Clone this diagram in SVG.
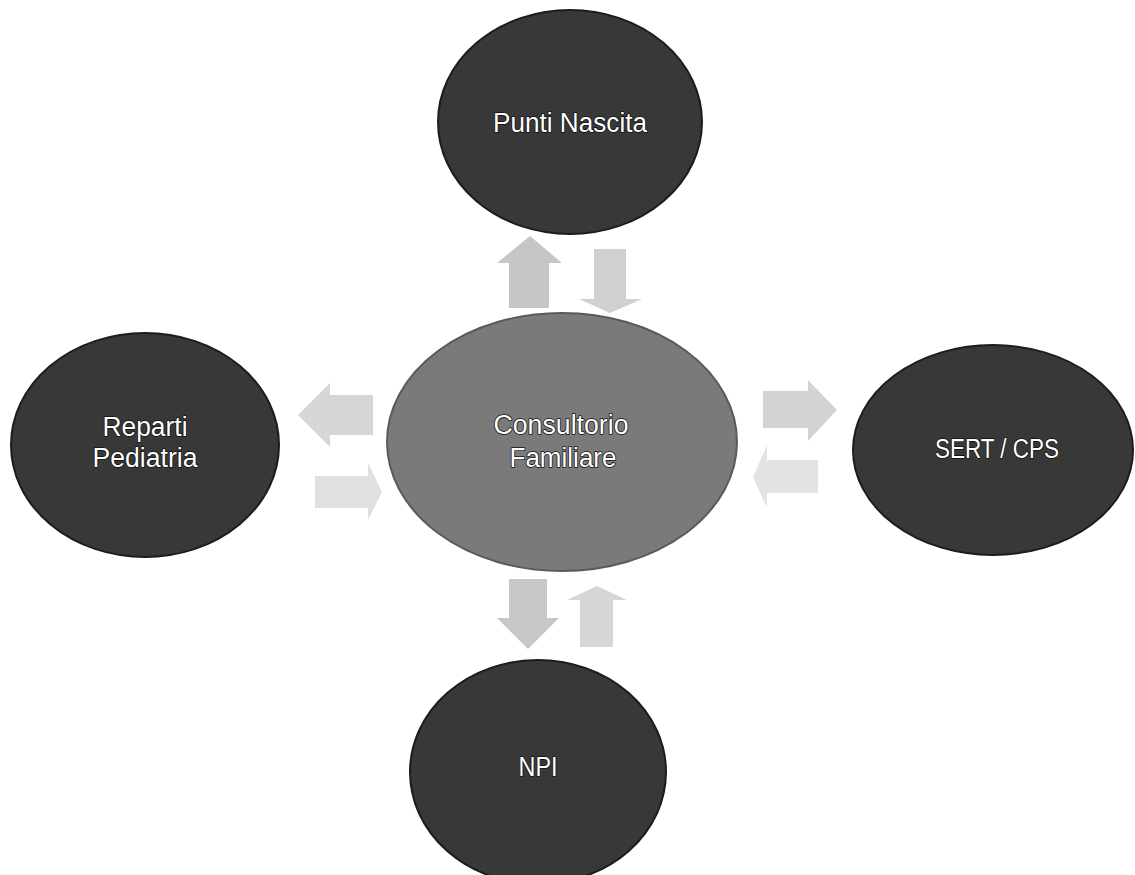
<svg xmlns="http://www.w3.org/2000/svg" width="1135" height="875" viewBox="0 0 1135 875">
<style>
.node{fill:#383838;stroke:#1c1c1c;stroke-width:2}
.center{fill:#7a7a7a;stroke:#5a5a5a;stroke-width:2}
.lbl{font-family:"Liberation Sans",Arial,sans-serif;font-size:27px;fill:#ffffff;stroke:#111111;stroke-width:1.6px;paint-order:stroke;stroke-linejoin:round;text-anchor:middle}
.arr{stroke:none}
</style>
<rect width="1135" height="875" fill="#ffffff"/>
<g id="connectors">
<polygon class="arr" fill="#c6c6c6" points="530,236 562,263 549,263 549,308 509,308 509,263 497,263"/>
<polygon class="arr" fill="#d0d0d0" points="594,249 626,249 626,299 642,299 610,313 579,299 594,299"/>
<polygon class="arr" fill="#d6d6d6" points="298,415 330,383 330,395 373,395 373,435 330,435 330,447"/>
<polygon class="arr" fill="#e0e0e0" points="315,476 368,476 368,463 382,492 368,520 368,508 315,508"/>
<polygon class="arr" fill="#d3d3d3" points="763,391 808,391 808,380 837,410 808,441 808,428 763,428"/>
<polygon class="arr" fill="#e3e3e3" points="753,477 767,445 767,460 818,460 818,493 767,493 767,508"/>
<polygon class="arr" fill="#c8c8c8" points="509,579 547,579 547,618 559,618 528,649 497,618 509,618"/>
<polygon class="arr" fill="#d6d6d6" points="597,586 627,600 613,600 613,647 580,647 580,600 567,600"/>
</g>
<g id="punti-nascita">
<ellipse class="node" cx="570" cy="122" rx="132" ry="112"/>
<text class="lbl" x="570" y="132" textLength="154" lengthAdjust="spacingAndGlyphs">Punti Nascita</text>
</g>
<g id="consultorio">
<ellipse class="center" cx="562" cy="442" rx="175" ry="129"/>
<text class="lbl" x="561" y="434" textLength="135" lengthAdjust="spacingAndGlyphs">Consultorio</text>
<text class="lbl" x="563" y="467" textLength="107" lengthAdjust="spacingAndGlyphs">Familiare</text>
</g>
<g id="reparti-pediatria">
<ellipse class="node" cx="145" cy="445" rx="134" ry="112"/>
<text class="lbl" x="145" y="436" textLength="85" lengthAdjust="spacingAndGlyphs">Reparti</text>
<text class="lbl" x="145" y="467" textLength="105" lengthAdjust="spacingAndGlyphs">Pediatria</text>
</g>
<g id="sert-cps">
<ellipse class="node" cx="993" cy="450" rx="140" ry="105"/>
<text class="lbl" x="997" y="458" textLength="124" lengthAdjust="spacingAndGlyphs">SERT / CPS</text>
</g>
<g id="npi">
<ellipse class="node" cx="538" cy="772" rx="128" ry="112"/>
<text class="lbl" x="538" y="776" textLength="39" lengthAdjust="spacingAndGlyphs">NPI</text>
</g>
</svg>
